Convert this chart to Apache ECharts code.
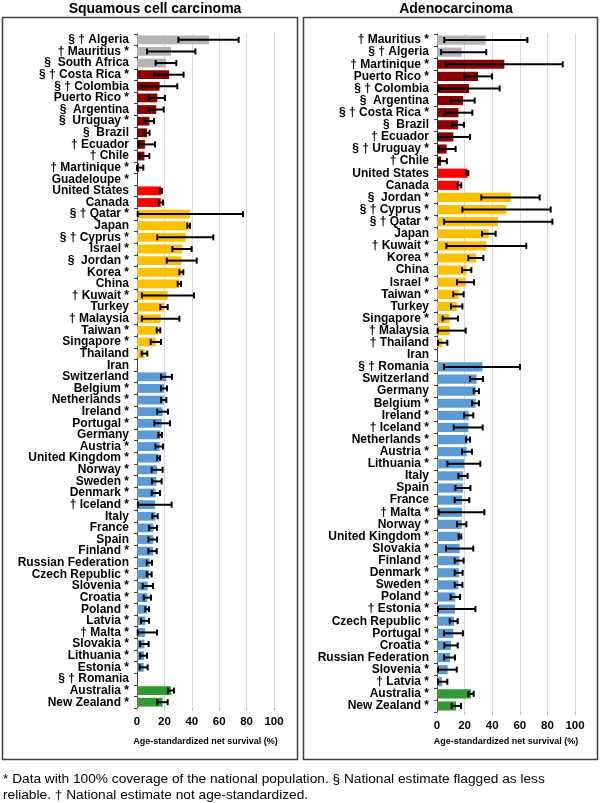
<!DOCTYPE html>
<html>
<head>
<meta charset="utf-8">
<script src="https://cdn.jsdelivr.net/npm/echarts@6/dist/echarts.min.js"></script>
<style>
html,body{margin:0;padding:0;background:#fff;}
#chart{width:600px;height:803px;}
</style>
</head>
<body>
<div id="chart"></div>
<script>
// ---------------- DATA ----------------
const sqTitle = 'Squamous cell carcinoma';
const adTitle = 'Adenocarcinoma';
const axisName = 'Age-standardized net survival (%)';
const xTicks = [0, 20, 40, 60, 80, 100];
const footnote = ['* Data with 100% coverage of the national population. § National estimate flagged as less',
                  'reliable. † National estimate not age-standardized.'];

const regionNames = ['Africa', 'Central and South America', 'North America', 'Asia', 'Europe', 'Oceania'];

const sqCategories = ['§ † Algeria','† Mauritius *','§  South Africa','§ † Costa Rica *','§ † Colombia','Puerto Rico *',
  '§  Argentina','§  Uruguay *','§  Brazil','† Ecuador','† Chile','† Martinique *','Guadeloupe *','United States','Canada',
  '§ † Qatar *','Japan','§ † Cyprus *','Israel *','§  Jordan *','Korea *','China','† Kuwait *','Turkey','† Malaysia',
  'Taiwan *','Singapore *','Thailand','Iran','Switzerland','Belgium *','Netherlands *','Ireland *','Portugal *','Germany',
  'Austria *','United Kingdom *','Norway *','Sweden *','Denmark *','† Iceland *','Italy','France','Spain','Finland *',
  'Russian Federation','Czech Republic *','Slovenia *','Croatia *','Poland *','Latvia *','† Malta *','Slovakia *',
  'Lithuania *','Estonia *','§ † Romania','Australia *','New Zealand *'];
const sqValues = [52.6,24.8,21.2,23.4,16.5,14.8,14.1,9.0,7.3,5.8,5.4,1.5,null,17.5,17.3,
  38.7,37.7,35.5,33.1,32.4,32.4,30.9,22.4,19.7,17.3,15.6,13.6,5.4,null,
  21.4,19.7,19.5,18.7,18.0,17.0,16.5,15.8,14.6,14.1,13.6,13.1,13.4,11.9,11.9,11.7,
  9.2,8.8,7.8,7.5,7.1,6.1,5.8,5.4,5.1,4.9,null,24.8,18.7];
const sqLow = [30.2,7.3,13.6,12.4,3.4,8.8,8.5,5.6,5.1,1.2,1.7,0,null,16.5,15.8,
  0.5,36.7,14.8,25.8,21.7,30.9,29.7,3.6,17.0,3.6,14.4,10.0,3.4,null,
  17.5,17.5,17.5,14.8,12.7,15.6,13.4,14.8,10.7,10.9,10.7,0.7,11.2,8.8,8.3,8.3,
  7.1,7.1,4.1,4.9,6.1,2.9,0.5,2.2,2.4,1.9,null,22.6,14.8];
const sqHigh = [74.2,42.6,28.7,34.0,29.4,20.4,19.5,12.4,9.2,13.1,9.0,4.6,null,18.2,19.0,
  77.4,38.7,55.7,39.9,43.6,33.8,32.1,41.6,22.4,30.9,17.0,17.5,7.5,null,
  25.5,21.9,21.4,22.6,24.1,18.2,19.0,16.8,18.7,18.0,16.8,25.3,15.1,14.6,14.6,14.4,
  10.9,10.7,11.7,10.2,8.8,8.8,14.6,8.5,7.3,7.8,null,27.0,22.4];
const sqRegionCounts = [3, 10, 2, 14, 27, 2];

const adCategories = ['† Mauritius *','§ † Algeria','† Martinique *','Puerto Rico *','§ † Colombia','§  Argentina',
  '§ † Costa Rica *','§  Brazil','† Ecuador','§ † Uruguay *','† Chile','United States','Canada','§  Jordan *',
  '§ † Cyprus *','§ † Qatar *','Japan','† Kuwait *','Korea *','China','Israel *','Taiwan *','Turkey','Singapore *',
  '† Malaysia','† Thailand','Iran','§ † Romania','Switzerland','Germany','Belgium *','Ireland *','† Iceland *',
  'Netherlands *','Austria *','Lithuania *','Italy','Spain','France','† Malta *','Norway *','United Kingdom *',
  'Slovakia *','Finland *','Denmark *','Sweden *','Poland *','† Estonia *','Czech Republic *','Portugal *','Croatia *',
  'Russian Federation','Slovenia *','† Latvia *','Australia *','New Zealand *'];
const adValues = [35.3,17.9,48.8,29.7,23.2,18.8,15.5,15.2,11.8,7.0,2.9,22.0,16.2,
  53.4,50.2,44.2,37.4,35.7,28.3,21.5,20.8,15.7,14.3,8.9,9.2,3.9,null,
  32.9,28.7,28.0,28.0,22.9,22.7,22.2,21.5,19.8,18.8,18.8,18.1,18.1,17.9,16.7,16.4,16.2,15.9,15.5,
  13.3,13.0,12.3,11.8,10.1,9.4,7.7,3.6,24.6,13.8];
const adLow = [5.3,3.0,6.3,19.6,1.2,10.1,5.6,10.9,0.7,1.2,0.7,21.3,14.7,
  32.1,18.4,5.1,32.6,6.8,22.7,18.1,14.5,11.8,10.1,4.1,0.5,0.7,null,
  5.1,23.9,26.6,25.4,19.6,12.1,21.0,18.1,7.5,15.5,13.3,12.8,1.2,14.5,15.7,6.5,12.8,12.8,12.8,
  9.9,0.7,9.2,5.1,5.3,5.1,0.7,0.7,22.7,10.6];
const adHigh = [65.5,35.7,91.1,39.9,45.4,27.3,25.6,19.6,23.9,13.5,7.2,22.7,17.6,
  74.4,82.4,83.6,42.5,64.7,33.6,24.9,26.8,19.3,18.4,15.2,20.8,7.5,null,
  60.1,33.3,30.4,30.4,26.3,33.1,23.9,25.4,31.4,22.2,24.2,23.4,34.3,21.3,17.6,26.3,19.3,18.6,18.4,
  16.7,27.8,15.0,18.8,15.0,13.0,14.3,7.5,26.6,17.4];
const adRegionCounts = [2, 9, 2, 14, 27, 2];

// ---------------- STYLE ----------------
const regionColors = {
  'Africa': '#b4b4b4',
  'Central and South America': '#8c0000',
  'North America': '#ff0000',
  'Asia': '#ffc000',
  'Europe': '#5b9bd5',
  'Oceania': '#339933'
};
const FONT = '"Liberation Sans", Arial, Helvetica, sans-serif';

function regionsFromCounts(counts) {
  const out = [];
  counts.forEach((c, i) => { for (let k = 0; k < c; k++) out.push(regionNames[i]); });
  return out;
}

function barData(values, counts) {
  const reg = regionsFromCounts(counts);
  return values.map((v, i) => ({
    value: v == null ? '-' : v,
    itemStyle: { color: regionColors[reg[i]] }
  }));
}

function errData(low, high) {
  const out = [];
  low.forEach((l, i) => { if (l != null && high[i] != null) out.push([i, l, high[i]]); });
  return out;
}

function errRender(params, api) {
  const idx = api.value(0);
  const p1 = api.coord([api.value(1), idx]);
  const p2 = api.coord([api.value(2), idx]);
  const h = 3;
  const st = { stroke: '#000', lineWidth: 2 };
  return {
    type: 'group',
    children: [
      { type: 'line', shape: { x1: p1[0], y1: p1[1], x2: p2[0], y2: p2[1] }, style: st },
      { type: 'line', shape: { x1: p1[0], y1: p1[1] - h, x2: p1[0], y2: p1[1] + h }, style: st },
      { type: 'line', shape: { x1: p2[0], y1: p2[1] - h, x2: p2[0], y2: p2[1] + h }, style: st }
    ]
  };
}

function xAxisDef(gridIndex, nameGap) {
  return {
    type: 'value', gridIndex: gridIndex, min: xTicks[0], max: xTicks[xTicks.length - 1],
    interval: xTicks[1] - xTicks[0],
    axisLine: { show: false },
    axisTick: { show: true, length: 3, lineStyle: { color: '#bfbfbf' } },
    splitLine: { show: true, lineStyle: { color: '#d9d9d9', width: 1 } },
    axisLabel: { fontSize: 11.5, fontWeight: 'bold', color: '#000', fontFamily: FONT, margin: 8 },
    name: axisName, nameLocation: 'middle', nameGap: nameGap,
    nameTextStyle: { fontSize: 9, fontWeight: 'bold', color: '#000', fontFamily: FONT }
  };
}

function yAxisDef(gridIndex, cats) {
  return {
    type: 'category', gridIndex: gridIndex, data: cats, inverse: true,
    axisLine: { show: true, lineStyle: { color: '#404040', width: 1 } },
    axisTick: { show: true, length: 3, interval: 0, lineStyle: { color: '#404040' } },
    axisLabel: { fontSize: 12, fontWeight: 'bold', color: '#000', fontFamily: FONT, margin: 8, interval: 0 },
    splitLine: { show: false }
  };
}

const chart = echarts.init(document.getElementById('chart'), null, { renderer: 'canvas' });
chart.setOption({
  animation: false,
  backgroundColor: '#fff',
  textStyle: { fontFamily: FONT },
  title: [
    { text: sqTitle, left: 150, top: -3, textAlign: 'center',
      textStyle: { fontSize: 14, fontWeight: 'bold', color: '#000', fontFamily: FONT } },
    { text: adTitle, left: 451, top: -3, textAlign: 'center',
      textStyle: { fontSize: 14, fontWeight: 'bold', color: '#000', fontFamily: FONT } }
  ],
  graphic: [
    { type: 'rect', shape: { x: 2.5, y: 17.5, width: 295, height: 742 },
      style: { fill: 'none', stroke: '#3f3f3f', lineWidth: 1.5 }, z: -1 },
    { type: 'rect', shape: { x: 303.5, y: 17.5, width: 294, height: 742 },
      style: { fill: 'none', stroke: '#3f3f3f', lineWidth: 1.5 }, z: -1 },
    { type: 'text', left: 3, top: 771,
      style: { text: footnote.join('\n'), fontSize: 13.7, lineHeight: 16, fill: '#000', fontFamily: FONT } }
  ],
  grid: [
    { left: 137, top: 34, width: 137, height: 674 },
    { left: 437, top: 34, width: 138, height: 678 }
  ],
  xAxis: [xAxisDef(0, 29), xAxisDef(1, 25)],
  yAxis: [yAxisDef(0, sqCategories), yAxisDef(1, adCategories)],
  series: [
    { type: 'bar', xAxisIndex: 0, yAxisIndex: 0, data: barData(sqValues, sqRegionCounts),
      barWidth: '76%', z: 2 },
    { type: 'custom', xAxisIndex: 0, yAxisIndex: 0, data: errData(sqLow, sqHigh),
      encode: { x: [1, 2], y: 0 }, renderItem: errRender, z: 3 },
    { type: 'bar', xAxisIndex: 1, yAxisIndex: 1, data: barData(adValues, adRegionCounts),
      barWidth: '76%', z: 2 },
    { type: 'custom', xAxisIndex: 1, yAxisIndex: 1, data: errData(adLow, adHigh),
      encode: { x: [1, 2], y: 0 }, renderItem: errRender, z: 3 }
  ]
});
</script>
</body>
</html>
